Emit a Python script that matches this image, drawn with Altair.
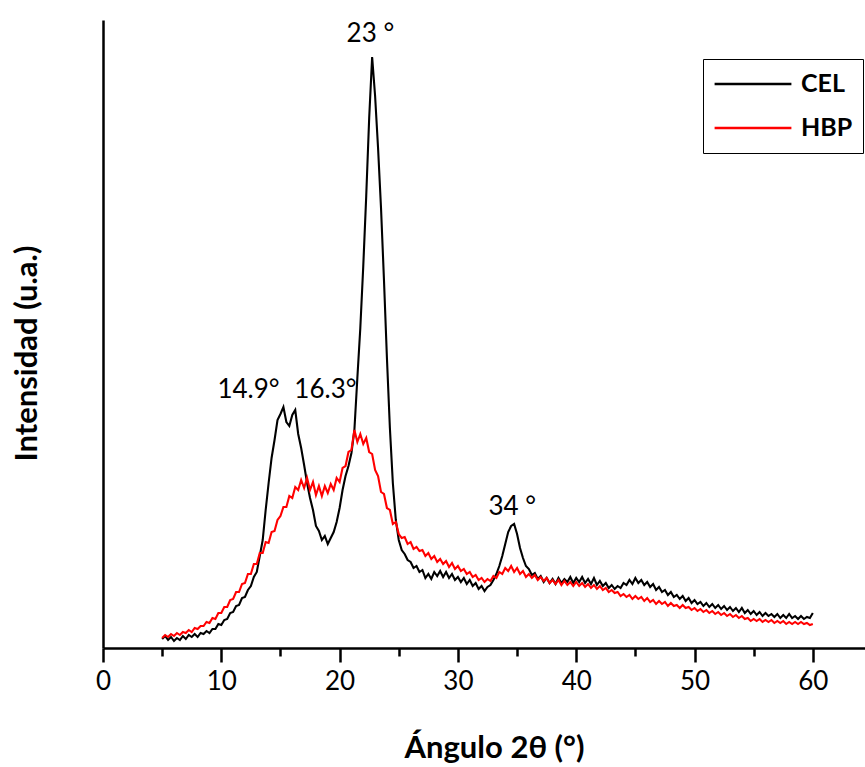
import altair as alt
import pandas as pd

# 2-theta sampling grid (degrees), 0.25 deg steps from 5 to 60
angles = [
    5.00, 5.25, 5.50, 5.75, 6.00, 6.25, 6.50, 6.75, 7.00, 7.25, 7.50, 7.75,
    8.00, 8.25, 8.50, 8.75, 9.00, 9.25, 9.50, 9.75, 10.00, 10.25, 10.50, 10.75,
    11.00, 11.25, 11.50, 11.75, 12.00, 12.25, 12.50, 12.75, 13.00, 13.25, 13.50, 13.75,
    14.00, 14.25, 14.50, 14.75, 15.00, 15.25, 15.50, 15.75, 16.00, 16.25, 16.50, 16.75,
    17.00, 17.25, 17.50, 17.75, 18.00, 18.25, 18.50, 18.75, 19.00, 19.25, 19.50, 19.75,
    20.00, 20.25, 20.50, 20.75, 21.00, 21.25, 21.50, 21.75, 22.00, 22.25, 22.50, 22.75,
    23.00, 23.25, 23.50, 23.75, 24.00, 24.25, 24.50, 24.75, 25.00, 25.25, 25.50, 25.75,
    26.00, 26.25, 26.50, 26.75, 27.00, 27.25, 27.50, 27.75, 28.00, 28.25, 28.50, 28.75,
    29.00, 29.25, 29.50, 29.75, 30.00, 30.25, 30.50, 30.75, 31.00, 31.25, 31.50, 31.75,
    32.00, 32.25, 32.50, 32.75, 33.00, 33.25, 33.50, 33.75, 34.00, 34.25, 34.50, 34.75,
    35.00, 35.25, 35.50, 35.75, 36.00, 36.25, 36.50, 36.75, 37.00, 37.25, 37.50, 37.75,
    38.00, 38.25, 38.50, 38.75, 39.00, 39.25, 39.50, 39.75, 40.00, 40.25, 40.50, 40.75,
    41.00, 41.25, 41.50, 41.75, 42.00, 42.25, 42.50, 42.75, 43.00, 43.25, 43.50, 43.75,
    44.00, 44.25, 44.50, 44.75, 45.00, 45.25, 45.50, 45.75, 46.00, 46.25, 46.50, 46.75,
    47.00, 47.25, 47.50, 47.75, 48.00, 48.25, 48.50, 48.75, 49.00, 49.25, 49.50, 49.75,
    50.00, 50.25, 50.50, 50.75, 51.00, 51.25, 51.50, 51.75, 52.00, 52.25, 52.50, 52.75,
    53.00, 53.25, 53.50, 53.75, 54.00, 54.25, 54.50, 54.75, 55.00, 55.25, 55.50, 55.75,
    56.00, 56.25, 56.50, 56.75, 57.00, 57.25, 57.50, 57.75, 58.00, 58.25, 58.50, 58.75,
    59.00, 59.25, 59.50, 59.75, 60.00,
]

# CEL intensity (a.u.)
cel = [
    9, 12, 8, 11, 7, 10, 8, 12, 9, 13, 11, 14,
    11, 15, 14, 17, 15, 19, 19, 24, 23, 28, 29, 35,
    36, 42, 43, 50, 51, 58, 62, 71, 76, 92, 108, 138,
    165, 190, 208, 228, 234, 241, 226, 222, 233, 238, 214, 200,
    183, 165, 150, 138, 122, 117, 108, 112, 104, 110, 116, 126,
    140, 158, 172, 182, 195, 218, 270, 320, 382, 452, 530, 591,
    552, 500, 440, 368, 290, 220, 165, 128, 108, 98, 94, 88,
    86, 80, 82, 76, 78, 70, 74, 69, 76, 72, 77, 71,
    76, 70, 74, 68, 71, 66, 70, 64, 68, 62, 65, 59,
    62, 57, 61, 63, 68, 74, 82, 92, 104, 116, 122, 124,
    114, 100, 90, 82, 79, 73, 75, 69, 72, 66, 70, 65,
    69, 64, 70, 65, 69, 66, 71, 65, 70, 66, 71, 65,
    69, 64, 70, 63, 67, 62, 65, 60, 63, 59, 62, 60,
    65, 63, 68, 64, 70, 65, 68, 63, 66, 61, 64, 58,
    61, 56, 58, 53, 56, 51, 53, 49, 52, 47, 50, 45,
    48, 44, 46, 42, 45, 41, 44, 40, 43, 39, 42, 38,
    41, 37, 40, 36, 40, 35, 38, 34, 37, 33, 36, 32,
    35, 32, 34, 31, 34, 30, 33, 30, 34, 30, 32, 29,
    32, 29, 31, 30, 35,
]

# HBP intensity (a.u.)
hbp = [
    10, 13, 11, 14, 12, 15, 13, 16, 15, 18, 16, 20,
    19, 22, 22, 26, 25, 30, 29, 35, 35, 41, 41, 48,
    49, 56, 56, 64, 65, 74, 74, 84, 84, 95, 95, 106,
    105, 116, 117, 128, 132, 141, 141, 152, 150, 161, 158, 168,
    160, 170, 158, 166, 153, 162, 152, 162, 155, 164, 158, 170,
    166, 180, 182, 196, 198, 218, 206, 214, 204, 210, 196, 194,
    178, 172, 156, 154, 140, 138, 124, 126, 114, 110, 111, 104,
    106, 99, 101, 97, 98, 92, 95, 89, 92, 86, 89, 84,
    87, 81, 85, 79, 82, 77, 79, 74, 76, 71, 73, 68,
    70, 66, 69, 67, 72, 70, 76, 74, 80, 77, 82, 76,
    80, 74, 77, 71, 74, 70, 73, 68, 71, 67, 70, 65,
    68, 64, 68, 63, 67, 63, 66, 62, 66, 62, 65, 61,
    64, 60, 63, 59, 62, 58, 60, 56, 58, 55, 56, 52,
    54, 51, 53, 49, 52, 49, 51, 47, 50, 46, 48, 44,
    47, 44, 46, 42, 45, 42, 43, 40, 43, 40, 41, 38,
    40, 37, 39, 36, 38, 35, 37, 34, 36, 33, 35, 32,
    34, 31, 33, 30, 32, 29, 30, 27, 29, 27, 29, 26,
    28, 26, 28, 25, 27, 25, 27, 24, 26, 24, 26, 24,
    26, 24, 25, 23, 24,
]

series_names = ["CEL", "HBP"]
series_colors = ["#000000", "#ff0000"]

major_ticks = [0, 10, 20, 30, 40, 50, 60]
minor_ticks = [5, 15, 25, 35, 45, 55]

ann_text = ["23 °", "14.9°", "16.3°", "34 °"]
ann_x = [22.6, 12.3, 18.8, 34.6]
ann_y = [606, 250, 250, 133]

n = min(len(angles), len(cel), len(hbp))
df = pd.DataFrame({
    "angle": angles[:n] * 2,
    "intensity": cel[:n] + hbp[:n],
    "serie": [series_names[0]] * n + [series_names[1]] * n,
    "order": list(range(n)) * 2,
})
ann = pd.DataFrame({"text": ann_text, "x": ann_x, "y": ann_y})

x_scale = alt.Scale(domain=[0, 64.41], nice=False, zero=False)
y_scale = alt.Scale(domain=[0, 628], nice=False)

lines = alt.Chart(df).mark_line(strokeWidth=2.1, clip=True).encode(
    x=alt.X("angle:Q", scale=x_scale, axis=alt.Axis(
        title="Ángulo 2θ (°)",
        orient="bottom",
        values=major_ticks,
        tickSize=14, tickWidth=2.5, tickColor="black",
        domainColor="black", domainWidth=2.5,
        labelFont="Lato", labelFontSize=26, labelColor="black", labelPadding=6,
        labelFlush=False, labelOverlap=False,
        titleFont="Lato", titleFontWeight="bold", titleFontSize=31, titleColor="black",
        titleX=391, titleY=109, titleAlign="center", titleBaseline="alphabetic",
        grid=False,
    )),
    y=alt.Y("intensity:Q", scale=y_scale, axis=alt.Axis(
        title="Intensidad (u.a.)",
        ticks=False, labels=False, grid=False,
        domainColor="black", domainWidth=2.5,
        titleFont="Lato", titleFontWeight="bold", titleFontSize=31, titleColor="black",
        titleX=-67, titleY=333, titleAlign="center", titleBaseline="alphabetic",
        titleAngle=270,
    )),
    color=alt.Color("serie:N", scale=alt.Scale(domain=series_names, range=series_colors),
                    legend=alt.Legend(
                        title=None, orient="none", legendX=600, legendY=39,
                        strokeColor="black", fillColor="white", padding=10,
                        symbolType="stroke", symbolSize=5900, symbolStrokeWidth=2.5,
                        labelFont="Lato", labelFontWeight="bold", labelFontSize=25,
                        labelColor="black", labelOffset=8, clipHeight=30, rowPadding=14,
                    )),
    order=alt.Order("order:Q"),
    detail="serie:N",
)

labels = alt.Chart(ann).mark_text(
    font="Lato", fontSize=26, color="black", align="center", baseline="alphabetic"
).encode(
    x=alt.X("x:Q", scale=x_scale, axis=alt.Axis(
        orient="bottom", values=minor_ticks, labels=False, domain=False,
        tickSize=8, tickWidth=2.5, tickColor="black", title=None, grid=False,
    )),
    y=alt.Y("y:Q", scale=y_scale),
    text="text:N",
)

chart = alt.layer(lines, labels).resolve_axis(x="independent").properties(
    width=762, height=628,
    autosize=alt.AutoSizeParams(type="none"),
    padding={"left": 103, "top": 20, "right": 0, "bottom": 119},
    background="white",
).configure_view(stroke=None)

chart.save("out.html", embed_options={"renderer": "svg", "actions": False})
